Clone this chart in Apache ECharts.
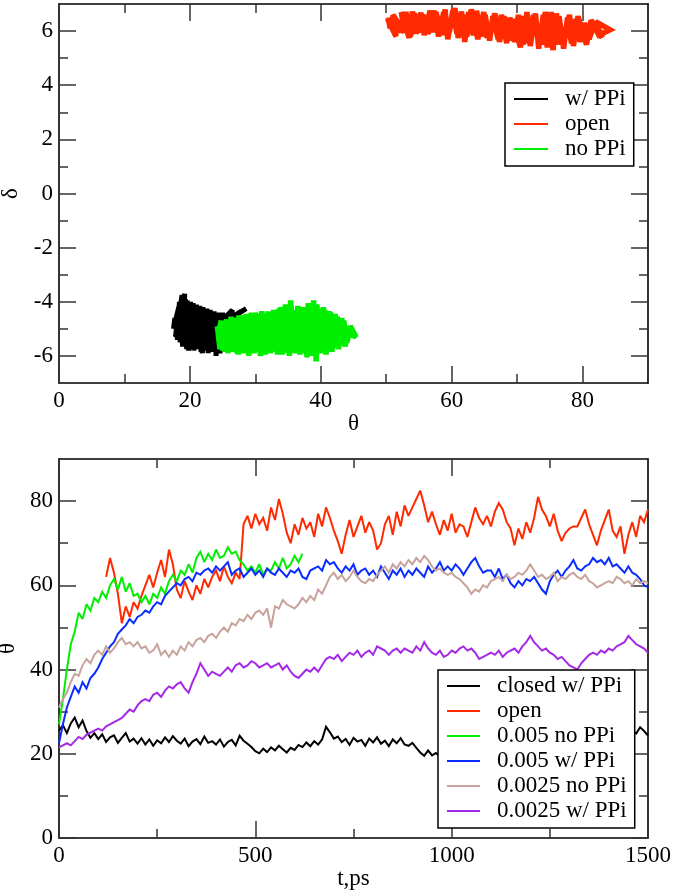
<!DOCTYPE html>
<html>
<head>
<meta charset="utf-8">
<script src="https://cdn.jsdelivr.net/npm/echarts@6/dist/echarts.min.js"></script>
<style>
  html, body { margin: 0; padding: 0; background: #fff; }
  #chart { width: 675px; height: 894px; }
</style>
</head>
<body>
<div id="chart"></div>
<script>
// top panel: (theta, delta) trajectories
const trajClosed = [
  [17.6,-4.9],[18.3,-4.2],[17.8,-5.3],[18.8,-3.75],[18.5,-5.5],[19.2,-3.7],[19.0,-5.6],[19.6,-3.95],[19.5,-5.75],[20.1,-4.0],
  [20.0,-5.65],[20.5,-4.05],[20.6,-5.8],[21.0,-4.1],[21.1,-5.75],[21.5,-4.15],[21.7,-5.85],[22.0,-4.2],[22.2,-5.8],[22.6,-4.25],
  [22.8,-5.9],[23.1,-4.3],[23.4,-5.85],[23.7,-4.35],[24.0,-6.0],[24.3,-4.4],[24.6,-5.9],[25.0,-4.4],[25.2,-5.6],[25.7,-4.5],
  [26.5,-4.3],[25.9,-5.0],[27.8,-4.35],[26.3,-4.6],[28.6,-4.25],[25.4,-4.7],[24.8,-5.7],[24.2,-4.5],[23.9,-5.8],[23.3,-4.4],
  [22.9,-5.75],[22.3,-4.3],[21.9,-5.9],[21.3,-4.2],[20.8,-5.7],[20.3,-4.1],[19.8,-5.8],[19.3,-3.9],[18.9,-5.65],[18.4,-4.0],
  [18.1,-5.4],[17.7,-4.6],[17.5,-5.0]
];
const trajOpen = [
  [50.2,6.45],[51.5,5.8],[51.0,6.6],[52.8,5.95],[52.3,6.7],[53.5,5.75],[54.0,6.72],[54.6,5.9],[55.3,6.68],[55.8,5.85],
  [56.7,6.75],[57.2,5.95],[57.6,6.7],[58.5,5.85],[59.0,6.8],[59.4,5.7],[60.2,6.78],[60.8,5.9],[61.5,6.72],[62.0,5.6],
  [62.6,6.7],[63.3,5.85],[63.8,6.75],[64.5,5.8],[65.1,6.6],[65.8,5.65],[66.3,6.55],[67.1,5.7],[67.6,6.6],[68.4,5.55],
  [68.9,6.5],[69.6,5.6],[70.2,6.6],[70.9,5.5],[71.5,6.7],[72.0,5.45],[72.8,6.65],[73.3,5.35],[74.0,6.6],[74.6,5.4],
  [75.2,6.7],[75.9,5.5],[76.4,6.55],[77.1,5.35],[77.7,6.5],[78.3,5.55],[79.0,6.45],[79.6,5.6],[80.3,6.3],[81.0,5.7],
  [81.7,6.2],[82.5,5.85],[84.2,6.05],[82.0,6.35],
  [83.0,5.75],[81.3,6.4],[80.6,5.5],[79.3,6.55],[78.6,5.45],[78.0,6.6],[76.8,5.5],[76.0,6.65],[75.5,5.3],[74.3,6.7],
  [73.7,5.5],[72.5,6.6],[71.8,5.55],[71.1,6.55],[70.5,5.4],[69.3,6.45],[68.7,5.65],[68.0,6.55],[67.3,5.6],[66.6,6.65],
  [65.4,5.75],[64.9,6.7],[64.0,5.7],[63.0,6.8],[62.3,5.8],[61.7,6.6],[61.0,5.75],[60.5,6.85],[59.6,5.95],[58.8,6.7],
  [58.0,5.8],[57.3,6.75],[56.4,5.9],[55.6,6.6],[55.0,5.95],[54.3,6.65],[53.7,5.8],[53.0,6.7],[52.2,5.95],[51.2,6.55],
  [50.6,6.1],[50.3,6.5]
];
const trajNoPPi = [
  [24.3,-5.2],[24.8,-4.7],[25.0,-5.8],[25.6,-4.65],[25.8,-5.9],[26.3,-4.55],[26.6,-5.85],[27.0,-4.6],[27.4,-5.95],[27.8,-4.5],
  [28.2,-5.9],[28.6,-4.45],[29.0,-6.0],[29.4,-4.4],[29.8,-5.9],[30.3,-4.45],[30.6,-5.85],[31.0,-4.35],[31.5,-5.95],[31.9,-4.4],
  [32.3,-5.9],[32.8,-4.3],[33.2,-5.85],[33.6,-4.25],[34.1,-5.95],[34.6,-4.1],[35.0,-5.9],[35.4,-3.95],[35.9,-5.8],[36.3,-4.3],
  [36.8,-5.95],[37.2,-4.2],[37.6,-5.9],[38.1,-4.05],[38.6,-6.0],[38.9,-3.95],[39.3,-6.2],[39.7,-4.25],[40.2,-5.9],[40.6,-4.3],
  [41.1,-5.8],[41.5,-4.4],[42.0,-5.7],[42.5,-4.55],[43.0,-5.6],[43.5,-4.7],[44.0,-5.5],[44.5,-4.9],[45.4,-5.3],[44.2,-5.15],
  [43.7,-5.65],[43.2,-4.6],[42.7,-5.75],[42.2,-4.45],[41.7,-5.85],[41.3,-4.35],[40.8,-5.95],[40.4,-4.2],[39.9,-5.85],[39.4,-4.1],
  [38.8,-5.9],[38.3,-4.3],[37.9,-6.05],[37.4,-4.25],[36.9,-5.85],[36.5,-4.15],[36.1,-5.9],[35.6,-4.3],[35.2,-6.0],[34.8,-4.35],
  [34.3,-5.85],[33.9,-4.2],[33.4,-5.95],[32.9,-4.4],[32.5,-5.8],[32.0,-4.35],[31.7,-5.9],[31.2,-4.45],[30.8,-6.0],[30.0,-4.4],
  [29.6,-5.85],[29.2,-4.5],[28.8,-5.9],[28.4,-4.55],[27.9,-5.85],[27.5,-4.5],[27.2,-5.9],[26.8,-4.65],[26.4,-5.8],[25.9,-4.7],
  [25.4,-5.85],[25.2,-4.8],[24.6,-5.75],[24.2,-4.9]
];

// bottom panel: theta sampled every 10 ps
const sampleStep = 10;
const thetaClosed = [
  25.5,26.8,24.9,27.2,28.6,26.3,27.9,25.4,23.8,24.9,
  23.5,24.6,22.8,23.9,24.4,22.6,23.8,24.9,22.9,23.6,
  22.4,23.7,22.2,23.4,21.9,23.2,22.5,23.9,22.8,24.2,
  23.1,22.4,23.6,21.8,22.9,23.5,22.3,24.1,22.6,23.0,
  22.2,23.4,21.7,22.8,23.3,22.0,24.3,23.1,22.4,21.6,
  20.6,20.1,21.2,20.4,21.5,20.8,21.9,21.1,20.3,21.4,
  20.9,22.1,21.6,22.7,21.8,23.0,22.2,23.4,26.4,25.1,
  23.6,24.1,22.8,23.5,22.1,23.8,22.9,23.3,21.9,23.6,
  22.7,23.9,22.4,23.1,21.8,23.4,22.5,23.7,22.2,21.9,
  22.6,21.4,20.3,19.5,20.8,19.6,20.2,19.3,20.9,21.5,
  22.0,21.2,22.6,21.8,22.9,21.5,22.3,23.1,21.9,22.5,
  21.7,22.8,21.3,22.4,23.0,22.1,21.6,22.7,21.4,22.2,
  22.9,21.8,22.5,21.2,22.6,23.2,22.0,21.7,22.8,22.3,
  21.6,22.4,23.1,22.2,21.9,22.7,23.3,22.5,23.6,22.8,
  23.4,24.1,23.2,24.5,23.8,24.9,25.6,24.8,26.3,25.4,
  24.3
];
const openStart = 120;
const thetaOpen = [
  62,66.5,63,58,51,55,52.5,56,
  54.5,57.5,60,62.5,59.5,63,66,62,68.5,65,
  59,57,61,58.5,56.5,60,58,61.5,59.5,62,
  63.5,61,64.5,62,60.5,63,61.5,74.5,76.5,73.5,
  77,74.5,76,73,78.5,75.5,80.5,77,72.5,70,
  74.5,72,76,73.5,75,71.5,77,74,78.5,76,
  73,70.5,67.5,72,75.5,71.5,74,76.5,72.5,75,
  73,68.5,70,74.5,76.5,72,77.5,74,79,76.5,
  78.5,80.5,82.5,79,75,77.5,74.5,72,75.5,73,
  77,72.5,74.5,74,71.5,75,78.5,76,74.5,76.5,
  74,77.5,79.5,78,75,73.5,69.5,73.5,71,75,
  72.5,76,81,78,76.5,74,77,73,70.5,72.5,
  73.5,74,74,76,78,74.5,72,69.5,73,75.5,
  78,73,71.5,74,67.5,72,75,71.5,76.5,75,
  78
];
const thetaNoPPi005 = [
  27,33,40,46,49,53.5,52,55.5,54,57,
  56,58.5,57,60,61.5,59,62,58.5,60.5,57.5,
  58,56,57.5,55.5,58,57,59.5,58,61,62.5,
  61,63.5,62.5,65,63,66.5,68,65.5,67.5,66,
  68.5,66.5,67,69,67.5,68,66,65,63.5,64.5,
  63,65,62.5,64,63.5,65.5,64,66.5,64,65,
  67,65.5,67.5
];
const thetaPPi005 = [
  22.5,27,31,33.5,36,34.5,37,35.5,38,39,
  40.5,42.5,44,45.5,46.5,48.5,49.5,50.5,52,51,
  52.5,53,54,53.5,55,56,55.5,57.5,58.5,59.5,
  60.5,60,61.5,62,61,63,62.5,63.5,64,63,
  64.5,63.5,64.5,65.5,62.5,63.5,64,62,63,64,
  62.5,63.5,62,64,63,62.5,64,63,62,63.5,
  63,64,62,61.5,63.5,64,64.5,63.5,66,65,
  65.5,64,63,64.5,63.5,65,62.5,63.5,64,62.5,
  63.5,62,64.5,63,61.5,63.5,62.5,64,62,63.5,
  62.5,64,63,62,64.5,63,64,65.5,63.5,64.5,
  63.5,65,64,62.5,64,65.5,66.5,64.5,63,63.5,
  63.5,62,64,61.5,62.5,60.5,59.5,61,60,61.5,
  61,62,60.5,59,58,61,62.5,63.5,62,63.5,
  64.5,66,64,63.5,64.5,65,66.5,65.5,66,65,
  66.5,64.5,65,64,63,64.5,63,62.5,61.5,60,
  59.5
];
const thetaNoPPi0025 = [
  31,33,34.5,37,39,38.5,41,42.5,41.5,43.5,
  44.5,43.5,45.5,44,45,46.5,47.5,46,46.5,45.5,
  46.5,45,45.5,44,44.5,46,43.5,44.5,43,44.5,
  43.5,45.5,44.5,46.5,45.5,47,47.5,46.5,48,48.5,
  47.5,49,50,49,51,50.5,52,51.5,53,52,
  53.5,54,53,54.5,50,55,54.5,56.5,55.5,55,
  54.5,55.5,57,56,57.5,56.5,59,58,60,62,
  63,61.5,62.5,61,62,63.5,62,61,60.5,61.5,
  61,62.5,63.5,64.5,63,65,64,65.5,64.5,66,
  65,66.5,65.5,67,66,64.5,63.5,64,63,62.5,
  63,62,61.5,60.5,59.5,58,59,58.5,60,59.5,
  61,61.5,62,61,62.5,61.5,62,63,62.5,63.5,
  65,63.5,62,62.5,61.5,62,63,61,62,61.5,
  62.5,63,62,61.5,62.5,61,60.5,59.5,60,60.5,
  61,60.5,62,61.5,60.5,61,60,61.5,60.5,61,
  60.5
];
const thetaPPi0025 = [
  21.5,22,22.5,22,23,24,23.5,24.5,25,25.5,
  26,25.5,26.5,27,27.5,28,28.5,29.5,30.5,30,
  31.5,32.5,33,32.5,34,34.5,33.5,35,36,35.5,
  36.5,37,35.5,34.5,37,39,41.5,40,38.5,39.5,
  39,38.5,39.5,40.5,39.5,41,41.5,40.5,41,42,
  41.5,40.5,41,41.5,40.5,41,41.5,40,41,39.5,
  38.5,38,39,40,39.5,40.5,39.5,41,42.5,43,
  42.5,43.5,42,43,44,43.5,44.5,43,44,44.5,
  43.5,45.5,45,44.5,43.5,44.5,45,44,45,44.5,
  44,45.5,44.5,46.5,45,44,43.5,44.5,43,43.5,
  44.5,44,45,45.5,44.5,45,44,42.5,43,43.5,
  44,43.5,44.5,43,44,44.5,45,44,45.5,46.5,
  48,46.5,45.5,44.5,45,44,43.5,42.5,43,42,
  41,40.5,40,41.5,42.5,43.5,44,43.5,44.5,44,
  45,44.5,45.5,46,46.5,48,47,46,45.5,45,
  44
];

// axis ticks
const thetaMajor = [0, 20, 40, 60, 80];
const thetaMinor = [10, 30, 50, 70];
const deltaMajor = [-6, -4, -2, 0, 2, 4, 6];
const deltaMinor = [-5, -3, -1, 1, 3, 5];
const timeMajor = [0, 500, 1000, 1500];
const timeMinor = [250, 750, 1250];

const topLegend = ['w/ PPi', 'open', 'no PPi'];
const bottomLegend = ['closed w/ PPi', 'open', '0.005 no PPi', '0.005 w/ PPi', '0.0025 no PPi', '0.0025 w/ PPi'];

const FONT = '"Liberation Serif", "DejaVu Serif", serif';
const FONT_SIZE = 23;

function timeSeries(start, values) {
  return values.map(function (v, i) { return [start + i * sampleStep, v]; });
}

// one side of a frame: major ticks (+labels, line) and minor ticks
function side(gridIndex, position, min, max, major, minor, labels, name) {
  const base = {
    type: 'value', gridIndex: gridIndex, position: position, min: min, max: max,
    splitLine: { show: false }
  };
  const majorAxis = Object.assign({}, base, {
    axisLine: { show: true, onZero: false, lineStyle: { color: '#000', width: 1.6 } },
    axisTick: { show: true, inside: true, length: 17, customValues: major, lineStyle: { color: '#333', width: 1.5 } },
    axisLabel: {
      show: labels, customValues: major, margin: 6, color: '#000', fontFamily: FONT, fontSize: FONT_SIZE,
      formatter: function (v) { return String(v); }
    }
  });
  if (name) {
    majorAxis.name = name;
    majorAxis.nameLocation = 'middle';
    majorAxis.nameGap = (position === 'left') ? 31 : 26;
    majorAxis.nameRotate = (position === 'left') ? 90 : 0;
    majorAxis.nameTextStyle = { color: '#000', fontFamily: FONT, fontSize: FONT_SIZE };
  }
  const minorAxis = Object.assign({}, base, {
    axisLine: { show: false, onZero: false },
    axisTick: { show: true, inside: true, length: 9, customValues: minor, lineStyle: { color: '#333', width: 1.5 } },
    axisLabel: { show: false }
  });
  return [majorAxis, minorAxis];
}

const xAxes = [].concat(
  side(0, 'bottom', 0, 90, thetaMajor, thetaMinor, true, 'θ'),
  side(0, 'top', 0, 90, thetaMajor, thetaMinor, false),
  side(1, 'bottom', 0, 1500, timeMajor, timeMinor, true, 't,ps'),
  side(1, 'top', 0, 1500, timeMajor, timeMinor, false)
);
const yAxes = [].concat(
  side(0, 'left', -7, 7, deltaMajor, deltaMinor, true, 'δ'),
  side(0, 'right', -7, 7, deltaMajor, deltaMinor, false),
  side(1, 'left', 0, 90, thetaMajor, thetaMinor, true, 'θ'),
  side(1, 'right', 0, 90, thetaMajor, thetaMinor, false)
);

function line(name, data, color, width, panel) {
  return {
    name: name, type: 'line', data: data,
    xAxisIndex: panel * 4, yAxisIndex: panel * 4,
    symbol: 'none', showSymbol: false, silent: true,
    lineStyle: { color: color, width: width, join: 'miter', miterLimit: 2.5 },
    itemStyle: { color: color }
  };
}

function legendBox(names, left, top, iconWidth) {
  return {
    data: names, orient: 'vertical', left: left, top: top,
    icon: 'rect', itemWidth: iconWidth, itemHeight: 2, itemGap: 1,
    padding: [4, 8, 5, 9],
    borderColor: '#000', borderWidth: 1.5, backgroundColor: '#fff',
    selectedMode: false,
    textStyle: { color: '#000', fontFamily: FONT, fontSize: FONT_SIZE, lineHeight: 24, padding: [0, 0, 0, 12] }
  };
}

const chart = echarts.init(document.getElementById('chart'));
chart.setOption({
  animation: false,
  backgroundColor: '#fff',
  grid: [
    { left: 59, top: 4, width: 589, height: 379, show: false, containLabel: false, outerBoundsMode: 'none' },
    { left: 59, top: 459, width: 589, height: 379, show: false, containLabel: false, outerBoundsMode: 'none' }
  ],
  xAxis: xAxes,
  yAxis: yAxes,
  legend: [
    legendBox(topLegend, 505, 83, 34),
    legendBox(bottomLegend, 438, 670, 33)
  ],
  series: [
    line('w/ PPi', trajClosed, '#000000', 5, 0),
    line('open', trajOpen, '#ff2a00', 5.5, 0),
    line('no PPi', trajNoPPi, '#00ee00', 5.5, 0),
    line('closed w/ PPi', timeSeries(0, thetaClosed), '#000000', 2, 1),
    line('open', timeSeries(openStart, thetaOpen), '#ff2a00', 2, 1),
    line('0.005 no PPi', timeSeries(0, thetaNoPPi005), '#00ee00', 2, 1),
    line('0.005 w/ PPi', timeSeries(0, thetaPPi005), '#0a2cff', 2, 1),
    line('0.0025 no PPi', timeSeries(0, thetaNoPPi0025), '#c8a39c', 2, 1),
    line('0.0025 w/ PPi', timeSeries(0, thetaPPi0025), '#a428e6', 2, 1)
  ]
});
</script>
</body>
</html>
